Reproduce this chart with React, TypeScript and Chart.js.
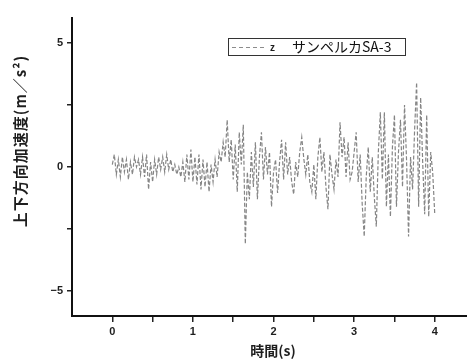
import React, { useEffect, useRef } from "react";
import { Chart, registerables } from "chart.js";

Chart.register(...registerables);

// ---- data ----
const SAMPLE_STEP = 0.025; // s between samples, starting at t = 0
const accel: number[] = [
  0.1, 0.5, -0.3, 0.3, -0.4, 0.4, -0.2, 0.3, -0.5, 0.2,
  -0.3, 0.4, 0.0, 0.3, -0.3, 0.4, -0.4, 0.5, -0.9, 0.2,
  -0.6, 0.3, -0.3, 0.4, -0.1, 0.4, -0.2, 0.5, -0.1, 0.3,
  -0.2, 0.1, -0.3, 0.0, -0.4, 0.2, -0.6, 0.5, -0.5, 0.7,
  -0.6, 0.4, -0.7, 0.5, -0.9, 0.3, -0.8, 0.2, -1.0, 0.1,
  -0.6, 0.3, -0.4, 0.6, 0.2, 1.0, 0.4, 1.9, 0.2, 1.1,
  -0.5, 0.9, -1.0, 1.4, 0.1, 1.7, -3.1, -0.2, -1.3, 0.6,
  -0.8, 1.0, -1.3, 0.4, 1.4, -0.5, 0.8, -0.3, 0.6, -1.6,
  -0.2, 0.3, -1.05, 0.2, 1.1, -0.5, 1.0, -0.3, 0.4, -0.6,
  -1.1, 0.2, -0.4, 0.6, 1.2, 0.35, -0.3, 0.5, -0.6, -1.0,
  0.1, -1.3, 0.4, 1.2, -0.2, 0.6, -0.8, -1.7, 0.5, -0.3,
  -0.9, 0.3, -0.4, 1.8, 0.4, 1.2, -0.4, 1.0, -0.5, -0.2,
  0.6, 1.4, -0.6, 0.5, -1.5, -2.8, -0.4, 0.8, -1.0, 0.4,
  -1.2, -2.4, 0.6, 2.2, -0.5, 2.2, -1.6, 0.5, -2.0, 0.8,
  2.1, -1.6, 0.6, 1.9, -0.8, 2.5, 0.3, -2.8, 0.4, -0.9,
  1.5, 3.4, -1.6, 2.8, 0.2, -1.9, 2.1, -2.0, 0.6, -0.25,
  -1.9,
];
const xTickValues = [0, 0.5, 1, 1.5, 2, 2.5, 3, 3.5, 4];
const yTickValues = [-5, -2.5, 0, 2.5, 5];
const X_MIN = -0.5;
const X_MAX = 4.4;
const Y_MIN = -6;
const Y_MAX = 6;
const SERIES_KEY = "z";
const SERIES_NAME = "サンペルカSA-3";
const X_TITLE = "時間(s)";
const Y_TITLE = "上下方向加速度(m／s²)";

const LABEL_FONT = "'Liberation Sans', Arial, sans-serif";
const CJK_FONT = "'Noto Sans CJK JP', 'Noto Sans', sans-serif";

const annotations = {
  id: "annotations",
  afterDraw(chart: any) {
    const ctx: any = chart.ctx;
    ctx.save();
    ctx.fillStyle = "#1e1e1e";
    // y-axis title
    ctx.save();
    ctx.translate(20, 141);
    ctx.rotate(-Math.PI / 2);
    ctx.font = `bold 15px ${CJK_FONT}`;
    ctx.letterSpacing = "1px";
    ctx.textAlign = "center";
    ctx.textBaseline = "middle";
    ctx.fillText(Y_TITLE, 0, 0);
    ctx.restore();
    // x-axis title
    ctx.font = `bold 14px ${CJK_FONT}`;
    ctx.textAlign = "center";
    ctx.textBaseline = "middle";
    ctx.fillText(X_TITLE, 273, 351);
    // legend box
    ctx.strokeStyle = "#333";
    ctx.lineWidth = 1;
    ctx.strokeRect(228.5, 38.5, 177, 17);
    ctx.strokeStyle = "#8c8c8c";
    ctx.setLineDash([4, 3]);
    ctx.beginPath();
    ctx.moveTo(232, 47.5);
    ctx.lineTo(265, 47.5);
    ctx.stroke();
    ctx.setLineDash([]);
    ctx.textAlign = "left";
    ctx.textBaseline = "middle";
    ctx.font = `bold 10px ${LABEL_FONT}`;
    ctx.fillText(SERIES_KEY, 270, 48);
    ctx.font = `14px ${CJK_FONT}`;
    ctx.fillStyle = "#111";
    ctx.fillText(SERIES_NAME, 292, 47);
    ctx.restore();
  },
};

export default function App() {
  const canvasRef = useRef<HTMLCanvasElement | null>(null);

  useEffect(() => {
    if (!canvasRef.current) return;
    const points = accel.map((v, i) => ({ x: i * SAMPLE_STEP, y: v }));
    const chart = new Chart(canvasRef.current, {
      type: "line",
      data: {
        datasets: [
          {
            label: SERIES_NAME,
            data: points,
            borderColor: "#858585",
            borderWidth: 1.2,
            borderDash: [4, 2],
            pointRadius: 0,
            tension: 0,
            fill: false,
          },
        ],
      },
      options: {
        animation: false,
        responsive: false,
        maintainAspectRatio: false,
        layout: { padding: { top: 18, right: 0, left: 0, bottom: 0 } },
        plugins: {
          legend: { display: false },
          tooltip: { enabled: false },
        },
        scales: {
          x: {
            type: "linear",
            min: X_MIN,
            max: X_MAX,
            afterBuildTicks: (scale: any) => {
              scale.ticks = xTickValues.map((v) => ({ value: v }));
            },
            afterFit: (scale: any) => {
              scale.height = 44;
            },
            ticks: {
              autoSkip: false,
              maxRotation: 0,
              padding: 3,
              color: "#1e1e1e",
              font: { family: LABEL_FONT, size: 11, weight: "bold" },
              callback: (v: any) => (Number(v) % 1 === 0 ? String(v) : ""),
            },
            grid: {
              drawOnChartArea: false,
              drawTicks: true,
              tickLength: 6,
              color: "#222",
              lineWidth: 1.5,
            },
            border: { display: true, color: "#111", width: 2 },
          },
          y: {
            type: "linear",
            min: Y_MIN,
            max: Y_MAX,
            afterBuildTicks: (scale: any) => {
              scale.ticks = yTickValues.map((v) => ({ value: v }));
            },
            afterFit: (scale: any) => {
              scale.width = 72;
            },
            ticks: {
              autoSkip: false,
              padding: 4,
              color: "#1e1e1e",
              font: { family: LABEL_FONT, size: 11, weight: "bold" },
              callback: (v: any) => {
                const n = Number(v);
                if (n % 5 !== 0) return "";
                return n < 0 ? "\u2212" + Math.abs(n) : String(n);
              },
            },
            grid: {
              drawOnChartArea: false,
              drawTicks: true,
              tickLength: 5,
              color: "#222",
              lineWidth: 1.5,
            },
            border: { display: true, color: "#111", width: 2 },
          },
        },
      },
      plugins: [annotations],
    });
    return () => chart.destroy();
  }, []);

  return (
    <div style={{ position: "fixed", left: 0, top: 0, width: 467, height: 360, background: "#fff" }}>
      <canvas ref={canvasRef} width={467} height={360} style={{ display: "block" }} />
    </div>
  );
}
